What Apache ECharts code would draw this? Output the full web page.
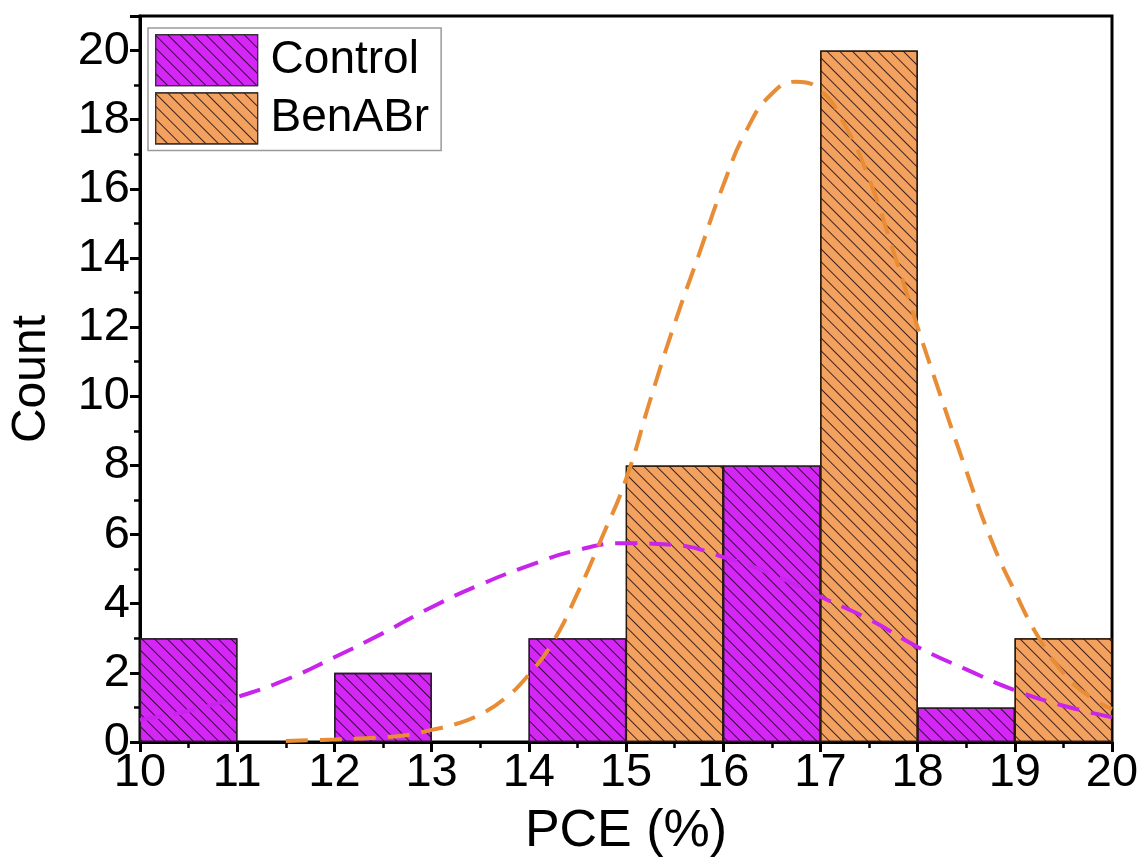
<!DOCTYPE html>
<html>
<head>
<meta charset="utf-8">
<script src="https://cdn.jsdelivr.net/npm/echarts@6/dist/echarts.min.js"></script>
<style>
  html, body { margin: 0; padding: 0; background: #fff; }
  #chart { width: 1144px; height: 866px; }
</style>
</head>
<body>
<div id="chart"></div>
<script>
// Histogram bins (left edge of each 1 %-wide bin) and counts
const binWidth = 1;
const controlBins = [10, 12, 14, 16, 18];
const controlCounts = [3, 2, 3, 8, 1];
const benBins = [15, 17, 19];
const benCounts = [8, 20, 3];

// Distribution fit curves, sampled along PCE (%)
const controlFitX = [10, 10.5, 11, 11.5, 12, 12.5, 13, 13.5, 14, 14.5, 15, 15.5, 16, 16.5, 17, 17.5, 18, 18.5, 19, 19.5, 20];
const controlFitY = [0.64, 0.9, 1.3, 1.8, 2.45, 3.15, 3.9, 4.55, 5.1, 5.55, 5.75, 5.7, 5.35, 4.85, 4.2, 3.55, 2.75, 2.1, 1.5, 1.05, 0.72];
const benFitX = [11.5, 11.75, 12, 12.25, 12.5, 12.75, 13, 13.25, 13.5, 13.75, 14, 14.25, 14.5, 14.75, 15, 15.25, 15.5, 15.75, 16, 16.25, 16.5, 16.75, 17, 17.25, 17.5, 17.75, 18, 18.25, 18.5, 18.75, 19, 19.25, 19.5, 19.75, 20];
const benFitY = [0.03, 0.05, 0.07, 0.1, 0.14, 0.2, 0.35, 0.52, 0.8, 1.25, 1.95, 2.9, 4.3, 5.9, 7.6, 9.9, 12.1, 14.1, 16.1, 17.75, 18.75, 19.1, 18.85, 17.85, 16.3, 14.2, 12.0, 9.9, 7.85, 5.9, 4.35, 3.0, 2.0, 1.35, 0.95];

// Axis ticks
const xTicks = { min: 10, max: 20, interval: 1 };
const yTicks = { min: 0, max: 21, interval: 2 };

const FONT = '"Liberation Sans", Arial, sans-serif';
const CONTROL_FILL = '#D426F5';
const BEN_FILL = '#F2A25E';
const CONTROL_LINE = '#C824EC';
const BEN_LINE = '#E88C35';

const grid = { left: 135, right: 32, top: 16, bottom: 124 };
const plotWidth = 1144 - grid.left - grid.right;
const barPx = plotWidth / (xTicks.max - xTicks.min) * binWidth;

const hatch = {
  symbol: 'rect',
  symbolSize: 1,
  color: 'rgba(20,0,20,0.8)',
  dashArrayX: [1, 0],
  dashArrayY: [1, 8],
  rotation: Math.PI / 4
};

const toBars = (bins, counts) => bins.map((b, i) => [b + binWidth / 2, counts[i]]);
const toLine = (xs, ys) => xs.map((x, i) => [x, ys[i]]);

const chart = echarts.init(document.getElementById('chart'), null, { renderer: 'canvas' });

chart.setOption({
  animation: false,
  backgroundColor: '#fff',
  grid: Object.assign({ show: true, borderColor: '#000', borderWidth: 3, backgroundColor: 'transparent' }, grid),
  legend: {
    left: 148,
    top: 28,
    orient: 'vertical',
    data: ['Control', 'BenABr'],
    icon: 'rect',
    itemWidth: 102,
    itemHeight: 51,
    itemGap: 6,
    padding: [6, 12, 6, 7],
    borderColor: '#9a9a9a',
    borderWidth: 1.5,
    backgroundColor: '#fff',
    itemStyle: { borderColor: '#333', borderWidth: 1.2 },
    textStyle: { fontFamily: FONT, fontSize: 46, color: '#000', padding: [0, 0, 0, 8] }
  },
  xAxis: {
    type: 'value',
    min: xTicks.min,
    max: xTicks.max,
    interval: xTicks.interval,
    name: 'PCE (%)',
    nameLocation: 'middle',
    nameGap: 64,
    nameTextStyle: { fontFamily: FONT, fontSize: 52, color: '#000' },
    axisLine: { show: true, lineStyle: { color: '#000', width: 3 } },
    axisTick: { show: true, inside: false, length: 10, lineStyle: { color: '#000', width: 3 } },
    minorTick: { show: true, splitNumber: 2, length: 6, lineStyle: { color: '#000', width: 2.5 } },
    axisLabel: { fontFamily: FONT, fontSize: 47, color: '#000', margin: 8 },
    splitLine: { show: false }
  },
  yAxis: {
    type: 'value',
    min: yTicks.min,
    max: yTicks.max,
    interval: yTicks.interval,
    name: 'Count',
    nameLocation: 'middle',
    nameGap: 84,
    nameTextStyle: { fontFamily: FONT, fontSize: 48, color: '#000' },
    axisLine: { show: true, lineStyle: { color: '#000', width: 3 } },
    axisTick: { show: true, inside: false, length: 10, lineStyle: { color: '#000', width: 3 } },
    minorTick: { show: true, splitNumber: 2, length: 6, lineStyle: { color: '#000', width: 2.5 } },
    axisLabel: { fontFamily: FONT, fontSize: 47, color: '#000', margin: 10, showMaxLabel: false },
    splitLine: { show: false }
  },
  series: [
    {
      name: 'Control',
      type: 'bar',
      data: toBars(controlBins, controlCounts),
      barWidth: barPx,
      barGap: '-100%',
      itemStyle: { color: CONTROL_FILL, borderColor: '#2a1a2a', borderWidth: 1.3, decal: hatch },
      z: 2
    },
    {
      name: 'BenABr',
      type: 'bar',
      data: toBars(benBins, benCounts),
      barWidth: barPx,
      barGap: '-100%',
      itemStyle: { color: BEN_FILL, borderColor: '#2a1a0a', borderWidth: 1.3, decal: hatch },
      z: 2
    },
    {
      name: 'Control fit',
      type: 'line',
      data: toLine(controlFitX, controlFitY),
      smooth: true,
      showSymbol: false,
      lineStyle: { color: CONTROL_LINE, width: 4, type: [22, 12] },
      z: 5
    },
    {
      name: 'BenABr fit',
      type: 'line',
      data: toLine(benFitX, benFitY),
      smooth: true,
      showSymbol: false,
      lineStyle: { color: BEN_LINE, width: 4, type: [22, 12] },
      z: 5
    }
  ]
});
</script>
</body>
</html>
